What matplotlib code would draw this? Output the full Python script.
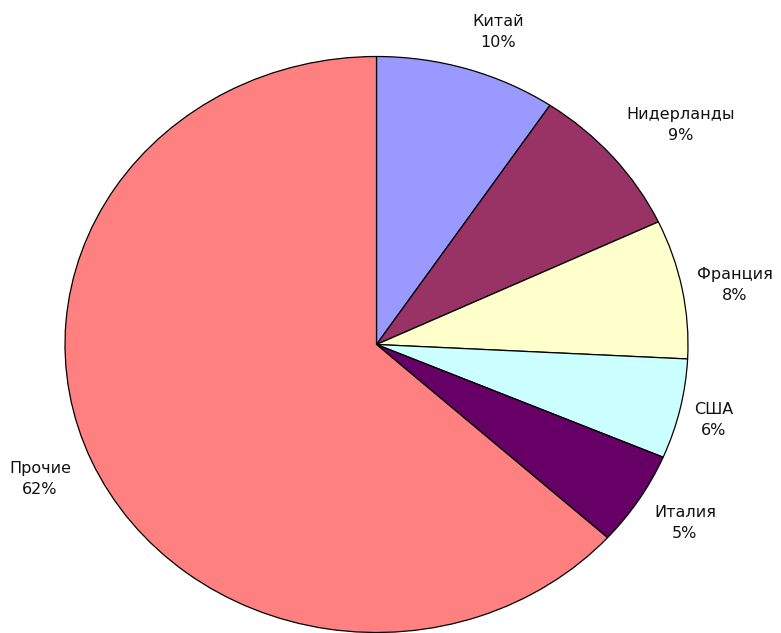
import matplotlib
matplotlib.use("Agg")
import matplotlib.pyplot as plt

# country shares (slice sizes) and the printed percents
countries = ["Китай", "Нидерланды", "Франция", "США", "Италия", "Прочие"]
shares = [9.4, 8.6, 7.8, 5.6, 5.3, 63.3]
pct_labels = ["10%", "9%", "8%", "6%", "5%", "62%"]
colors = ["#9999FF", "#993366", "#FFFFCC", "#CCFFFF", "#660066", "#FF8080"]

# label centres in pie units (radius = 1)
label_pos = [(0.390, 1.085), (0.975, 0.762), (1.150, 0.207),
             (1.083, -0.262), (0.990, -0.620), (-1.080, -0.467)]

plt.rcParams['font.family'] = ['DejaVu Sans']

fig = plt.figure(figsize=(7.81, 6.33), dpi=100)
ax = fig.add_axes([0, 0, 1, 1])

ax.pie(shares, colors=colors, startangle=90, counterclock=False,
       wedgeprops=dict(edgecolor="black", linewidth=0.9))

# pie is slightly wider than tall in the original
ax.set_aspect('auto')
ax.set_xlim(-376.5 / 311.5, (781 - 376.5) / 311.5)
ax.set_ylim(-288.5 / 288, (633 - 288.5) / 288)
ax.axis('off')

for name, pct, (x, y) in zip(countries, pct_labels, label_pos):
    ax.text(x, y, f"{name}\n{pct}", ha="center", va="center",
            multialignment="center", fontsize=11.5, linespacing=1.5,
            color="#111111")

fig.savefig("out.png", dpi=100)
